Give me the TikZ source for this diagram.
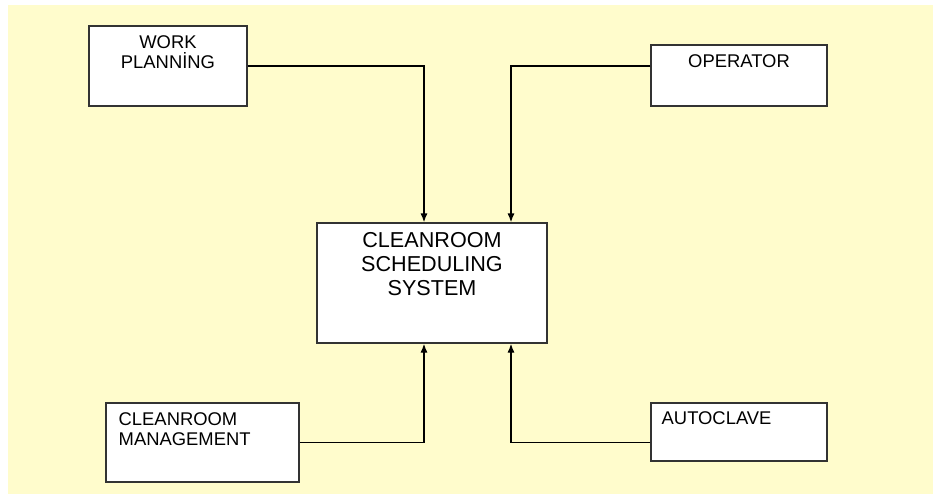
\documentclass[tikz,border=0pt]{standalone}
\usepackage{fontspec}
\setmainfont{Liberation Sans}
\usetikzlibrary{arrows.meta, positioning}

\definecolor{paper}{RGB}{255,252,204}
\definecolor{edge}{RGB}{51,51,51}

\begin{document}
\begin{tikzpicture}[
    x=0.5pt, y=-0.5pt,
    >={Latex[length=4.5pt,width=3.6pt]}, % Set default arrow tip style
    box/.style={draw=edge, line width=0.7pt, fill=white, inner sep=0pt}, % Style for the blocks
    smalltext/.style={inner sep=0pt, font=\fontsize{9.2}{10}\selectfont}, % Style for block labels
    bigtext/.style={inner sep=0pt, align=center, font=\fontsize{10.8}{12}\selectfont}, % Style for the main label
    link/.style={->, line width=0.7pt} % Style for connectors
]

    % Canvas
    \useasboundingbox (0,0) rectangle (933,495);
    \fill[paper] (8,5) rectangle (933,494);

    % Blocks
    \node[box, minimum width=79pt, minimum height=40pt] (work) at (168,66) {};
    \node[box, minimum width=88pt, minimum height=30.5pt] (oper) at (739,75.5) {};
    \node[box, minimum width=115pt, minimum height=60pt] (sched) at (432,283) {};
    \node[box, minimum width=96.5pt, minimum height=39.5pt] (mgmt) at (202.5,442.5) {};
    \node[box, minimum width=88pt, minimum height=29pt] (auto) at (739,432) {};

    % Labels
    \node[smalltext, align=center, below=5pt] (worktxt) at (work.north) {WORK\\PLANNİNG};
    \node[smalltext, align=center, below=5pt] (opertxt) at (oper.north) {OPERATOR};
    \node[bigtext, below=5pt] (schedtxt) at (sched.north) {CLEANROOM\\SCHEDULING\\SYSTEM};
    \node[smalltext, align=left, below right=5pt and 6.5pt] (mgmttxt) at (mgmt.north west) {CLEANROOM\\MANAGEMENT};
    \node[smalltext, align=left, below right=4.5pt and 5.5pt] (autotxt) at (auto.north west) {AUTOCLAVE};

    % Inputs from above
    \draw[link] (work.east) -| ([xshift=-4pt]sched.north);
    \draw[link] (oper.west |- work.east) -| ([xshift=39.5pt]sched.north);

    % Inputs from below
    \draw[link] (mgmt.east) -| ([xshift=-4pt]sched.south);
    \draw[link] (auto.west |- mgmt.east) -| ([xshift=39.5pt]sched.south);

\end{tikzpicture}
\end{document}
